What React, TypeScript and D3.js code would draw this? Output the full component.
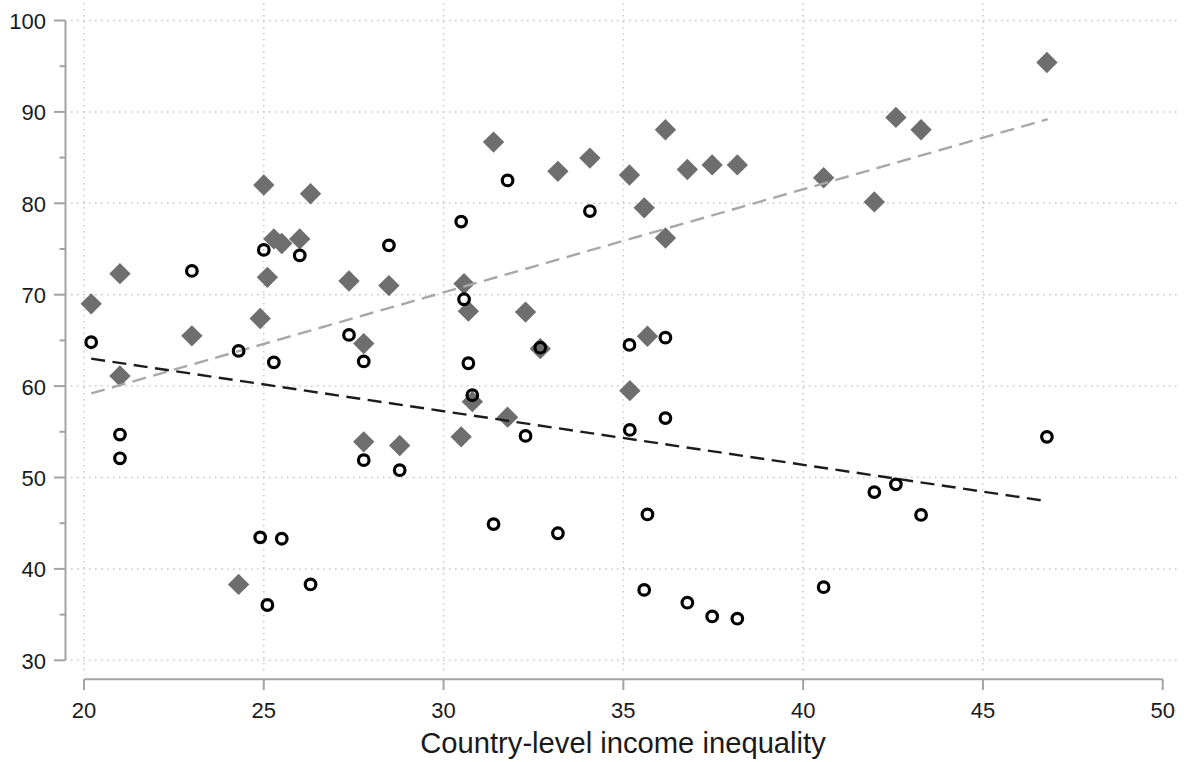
import React from "react";
import * as d3 from "d3";

// Country-level income inequality (x) for each country
const inequality = [
  20.2, 21.0, 21.0, 23.0, 24.3, 24.9, 25.0, 25.1, 25.28, 25.5, 26.0, 26.3, 27.37, 27.78,
  27.78, 28.48, 28.78, 30.49, 30.57, 30.69, 30.8, 31.39, 31.78, 32.28, 32.69, 33.18, 34.07,
  35.17, 35.18, 35.58, 35.67, 36.17, 36.17, 36.78, 37.47, 38.17, 40.57, 41.98, 42.58, 43.28,
  46.78,
];
// Diamond series (grey filled diamonds)
const diamondValues = [
  69.0, 72.3, 61.1, 65.5, 38.3, 67.4, 82.0, 71.9, 76.1, 75.6, 76.1, 81.05, 71.5, 64.65, 53.9,
  71.0, 53.5, 54.45, 71.2, 68.2, 58.3, 86.7, 56.6, 68.1, 64.1, 83.5, 84.95, 83.1, 59.5, 79.5,
  65.45, 88.05, 76.2, 83.7, 84.2, 84.2, 82.8, 80.15, 89.4, 88.05, 95.4,
];
// Circle series (black hollow circles)
const circleValues = [
  64.8, 54.7, 52.1, 72.6, 63.85, 43.45, 74.9, 36.05, 62.6, 43.3, 74.3, 38.3, 65.6, 62.7, 51.9,
  75.4, 50.8, 78.0, 69.5, 62.5, 59.0, 44.9, 82.5, 54.55, 64.2, 43.9, 79.15, 64.5, 55.2, 37.7,
  45.96, 65.3, 56.5, 36.3, 34.8, 34.55, 38.0, 48.4, 49.25, 45.9, 54.45,
];
// Fitted lines (endpoints)
const fitX = [20.2, 46.8];
const fitDiamond = [59.2, 89.2];
const fitCircle = [63.0, 47.4];

const xTicks = [20, 25, 30, 35, 40, 45, 50];
const yTicks = [30, 40, 50, 60, 70, 80, 90, 100];
const yMinorTicks = [35, 45, 55, 65, 75, 85, 95];
const xTitle = "Country-level income inequality";

const W = 1184;
const H = 762;
const FONT = "Arial, 'Liberation Sans', sans-serif";

export default function App() {
  const x = d3.scaleLinear().domain([20, 50]).range([84, 1162.7]);
  const y = d3.scaleLinear().domain([30, 100]).range([660.3, 20.5]);
  const axisColor = "#a3a3a3";
  const gridColor = "#c8c8c8";
  const diamondPath = d3.symbol(d3.symbolSquare, 228)() as string;
  const line = d3
    .line<number>()
    .x((_, i) => x(fitX[i]))
    .y((d) => y(d));
  const yAxisX = 65.5;
  const xAxisY = 679.3;

  return (
    <svg
      width={W}
      height={H}
      style={{ position: "absolute", left: 0, top: 0, background: "#fff" }}
      fontFamily={FONT}
    >
      {/* grid */}
      <g stroke={gridColor} strokeWidth={1.5} strokeDasharray="1.6 4.4">
        {yTicks.map((t) => (
          <line key={"gy" + t} x1={71} x2={1180} y1={y(t)} y2={y(t)} />
        ))}
        {xTicks
          .filter((t) => t < 50)
          .map((t) => (
            <line key={"gx" + t} x1={x(t)} x2={x(t)} y1={3} y2={672} />
          ))}
      </g>

      {/* y axis */}
      <g stroke={axisColor} strokeWidth={2}>
        <line x1={yAxisX} x2={yAxisX} y1={y(100)} y2={y(30)} />
        {yTicks.map((t) => (
          <line key={"yt" + t} x1={54} x2={yAxisX} y1={y(t)} y2={y(t)} />
        ))}
        {yMinorTicks.map((t) => (
          <line key={"ym" + t} x1={59.5} x2={yAxisX} y1={y(t)} y2={y(t)} />
        ))}
      </g>
      <g fontSize={22} fill="#1a1a1a" textAnchor="end">
        {yTicks.map((t) => (
          <text key={"yl" + t} x={46} y={y(t) + 8.5}>
            {t}
          </text>
        ))}
      </g>

      {/* x axis */}
      <g stroke={axisColor} strokeWidth={2}>
        <line x1={x(20)} x2={x(50)} y1={xAxisY} y2={xAxisY} />
        {xTicks.map((t) => (
          <line key={"xt" + t} x1={x(t)} x2={x(t)} y1={xAxisY} y2={690} />
        ))}
      </g>
      <g fontSize={22} fill="#1a1a1a" textAnchor="middle">
        {xTicks.map((t) => (
          <text key={"xl" + t} x={x(t)} y={718}>
            {t}
          </text>
        ))}
      </g>
      <text x={623} y={753} fontSize={29.2} fill="#1a1a1a" textAnchor="middle">
        {xTitle}
      </text>

      {/* diamonds */}
      <g fill="#6e6e6e">
        {inequality.map((v, i) => (
          <path
            key={"d" + i}
            d={diamondPath}
            transform={`translate(${x(v)},${y(diamondValues[i])}) rotate(45)`}
          />
        ))}
      </g>

      {/* fitted lines */}
      <path
        d={line(fitDiamond) as string}
        fill="none"
        stroke="#a8a8a8"
        strokeWidth={2.4}
        strokeDasharray="14 7.5"
      />
      <path
        d={line(fitCircle) as string}
        fill="none"
        stroke="#1c1c1c"
        strokeWidth={2.4}
        strokeDasharray="14 7.5"
      />

      {/* circles */}
      <g fill="none" stroke="#000" strokeWidth={3.2}>
        {inequality.map((v, i) => (
          <circle key={"c" + i} cx={x(v)} cy={y(circleValues[i])} r={5.3} />
        ))}
      </g>
    </svg>
  );
}
